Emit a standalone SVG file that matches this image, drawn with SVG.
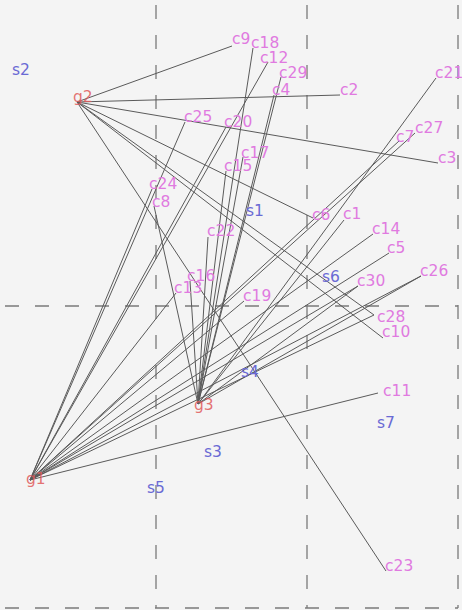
<svg xmlns="http://www.w3.org/2000/svg" width="462" height="610" viewBox="0 0 462 610">
<style>
.grid{stroke:#7a7a7a;stroke-width:1.3;stroke-dasharray:14 16;fill:none}
.e{stroke:#5a5a5a;stroke-width:1;fill:none}
text{font-family:"DejaVu Sans","Liberation Sans",sans-serif;font-size:15.5px}
.c{fill:#e07ae0}
.s{fill:#6a6ad4}
.g{fill:#e05a5a;fill-opacity:0.85}
</style>
<rect width="462" height="610" fill="#f4f4f4"/>
<g id="grid">
<line class="grid" x1="156" y1="5" x2="156" y2="608"/>
<line class="grid" x1="307" y1="5" x2="307" y2="608"/>
<line class="grid" x1="458" y1="5" x2="458" y2="608"/>
<line class="grid" x1="5" y1="306" x2="458" y2="306"/>
<line class="grid" x1="5" y1="608" x2="458" y2="608"/>
</g>
<g id="connectors">
<!-- g2 -->
<line class="e" x1="77" y1="102" x2="232" y2="46"/>
<line class="e" x1="77" y1="102" x2="340" y2="95"/>
<line class="e" x1="77" y1="102" x2="438" y2="163"/>
<line class="e" x1="77" y1="102" x2="313" y2="218"/>
<line class="e" x1="77" y1="102" x2="383" y2="338"/>
<line class="e" x1="77" y1="102" x2="374" y2="315"/>
<line class="e" x1="77" y1="102" x2="386" y2="571"/>
<!-- g3 -->
<line class="e" x1="198" y1="404" x2="253" y2="48"/>
<line class="e" x1="198" y1="404" x2="281" y2="77"/>
<line class="e" x1="198" y1="404" x2="274" y2="95"/>
<line class="e" x1="198" y1="404" x2="243" y2="157"/>
<line class="e" x1="198" y1="404" x2="226" y2="171"/>
<line class="e" x1="198" y1="404" x2="208" y2="237"/>
<line class="e" x1="198" y1="404" x2="154" y2="206"/>
<line class="e" x1="198" y1="404" x2="436" y2="78"/>
<line class="e" x1="198" y1="404" x2="344" y2="220"/>
<line class="e" x1="198" y1="404" x2="190" y2="281"/>
<line class="e" x1="198" y1="404" x2="358" y2="286"/>
<line class="e" x1="198" y1="404" x2="421" y2="276"/>
<!-- g1 -->
<line class="e" x1="30" y1="480" x2="268" y2="62"/>
<line class="e" x1="30" y1="480" x2="185" y2="122"/>
<line class="e" x1="30" y1="480" x2="152" y2="189"/>
<line class="e" x1="30" y1="480" x2="226" y2="127"/>
<line class="e" x1="30" y1="480" x2="415" y2="133"/>
<line class="e" x1="30" y1="480" x2="399" y2="141"/>
<line class="e" x1="30" y1="480" x2="373" y2="234"/>
<line class="e" x1="30" y1="480" x2="389" y2="253"/>
<line class="e" x1="30" y1="480" x2="374" y2="315"/>
<line class="e" x1="30" y1="480" x2="378" y2="393"/>
<line class="e" x1="30" y1="480" x2="176" y2="293"/>
<line class="e" x1="30" y1="480" x2="244" y2="301"/>
<line class="e" x1="30" y1="480" x2="421" y2="276"/>
<line class="e" x1="30" y1="480" x2="358" y2="286"/>
</g>
<g id="g1"><text class="g" x="26" y="484">g1</text></g>
<g id="g2"><text class="g" x="73" y="102">g2</text></g>
<g id="g3"><text class="g" x="194" y="410">g3</text></g>
<g id="s1"><text class="s" x="246" y="216">s1</text></g>
<g id="s2"><text class="s" x="12" y="75">s2</text></g>
<g id="s3"><text class="s" x="204" y="457">s3</text></g>
<g id="s4"><text class="s" x="241" y="377">s4</text></g>
<g id="s5"><text class="s" x="147" y="493">s5</text></g>
<g id="s6"><text class="s" x="322" y="282">s6</text></g>
<g id="s7"><text class="s" x="377" y="428">s7</text></g>
<g id="c1"><text class="c" x="343" y="219">c1</text></g>
<g id="c2"><text class="c" x="340" y="95">c2</text></g>
<g id="c3"><text class="c" x="438" y="163">c3</text></g>
<g id="c4"><text class="c" x="272" y="95">c4</text></g>
<g id="c5"><text class="c" x="387" y="253">c5</text></g>
<g id="c6"><text class="c" x="312" y="220">c6</text></g>
<g id="c7"><text class="c" x="396" y="142">c7</text></g>
<g id="c8"><text class="c" x="152" y="207">c8</text></g>
<g id="c9"><text class="c" x="232" y="44">c9</text></g>
<g id="c10"><text class="c" x="382" y="337">c10</text></g>
<g id="c11"><text class="c" x="383" y="396">c11</text></g>
<g id="c12"><text class="c" x="260" y="63">c12</text></g>
<g id="c13"><text class="c" x="174" y="293">c13</text></g>
<g id="c14"><text class="c" x="372" y="234">c14</text></g>
<g id="c15"><text class="c" x="224" y="171">c15</text></g>
<g id="c16"><text class="c" x="187" y="281">c16</text></g>
<g id="c17"><text class="c" x="241" y="158">c17</text></g>
<g id="c18"><text class="c" x="251" y="48">c18</text></g>
<g id="c19"><text class="c" x="243" y="301">c19</text></g>
<g id="c20"><text class="c" x="224" y="127">c20</text></g>
<g id="c21"><text class="c" x="435" y="78">c21</text></g>
<g id="c22"><text class="c" x="207" y="236">c22</text></g>
<g id="c23"><text class="c" x="385" y="571">c23</text></g>
<g id="c24"><text class="c" x="149" y="189">c24</text></g>
<g id="c25"><text class="c" x="184" y="122">c25</text></g>
<g id="c26"><text class="c" x="420" y="276">c26</text></g>
<g id="c27"><text class="c" x="415" y="133">c27</text></g>
<g id="c28"><text class="c" x="377" y="322">c28</text></g>
<g id="c29"><text class="c" x="279" y="78">c29</text></g>
<g id="c30"><text class="c" x="357" y="286">c30</text></g>
</svg>
